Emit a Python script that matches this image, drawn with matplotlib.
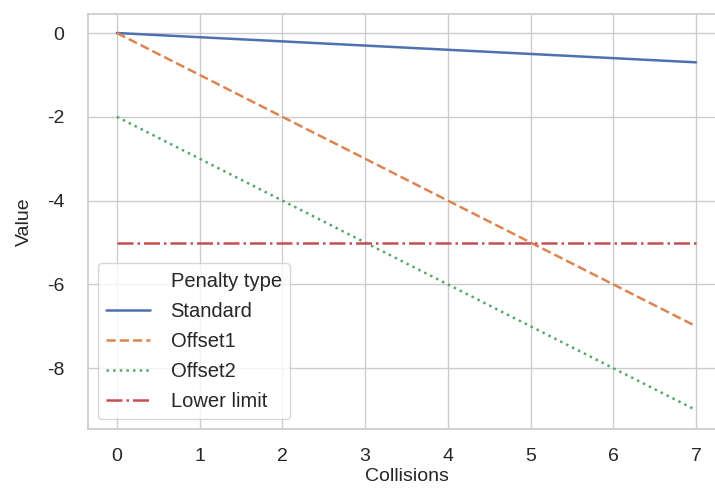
import numpy as np
import matplotlib.pyplot as plt
import seaborn as sns
from matplotlib.lines import Line2D

# data
collisions = [0, 1, 2, 3, 4, 5, 6, 7]
standard = [0.0, -0.1, -0.2, -0.3, -0.4, -0.5, -0.6, -0.7]
offset1 = [0, -1, -2, -3, -4, -5, -6, -7]
offset2 = [-2, -3, -4, -5, -6, -7, -8, -9]
lower_limit = [-5, -5, -5, -5, -5, -5, -5, -5]

series_names = ["Standard", "Offset1", "Offset2", "Lower limit"]

sns.set_theme(style="whitegrid")
plt.rcParams['font.family'] = ['Liberation Sans', 'DejaVu Sans']
plt.rcParams['axes.unicode_minus'] = False

fig = plt.figure(figsize=(7.15, 4.88), dpi=100)
ax = fig.add_axes([0.123, 0.121, 0.891, 0.850])

pal = sns.color_palette("deep")
styles = ["-", "--", ":", "-."]
data = [standard, offset1, offset2, lower_limit]

handles = [Line2D([], [], linestyle="none", label="Penalty type")]
for name, vals, col, ls in zip(series_names, data, pal[:4], styles):
    ln, = ax.plot(collisions, vals, color=col, linestyle=ls, linewidth=1.8, label=name)
    handles.append(ln)

ax.set_xlabel("Collisions", fontsize=14, labelpad=2)
ax.set_ylabel("Value", fontsize=14, labelpad=10)
ax.tick_params(axis="x", labelsize=14, pad=8)
ax.tick_params(axis="y", labelsize=14, pad=11)
ax.set_yticks([0, -2, -4, -6, -8])
ax.legend(handles=handles, loc="lower left", fontsize=14.5, frameon=True,
          handlelength=2.2, handletextpad=1.0, labelspacing=0.55,
          borderpad=0.4)

fig.savefig("out.png", dpi=100)
